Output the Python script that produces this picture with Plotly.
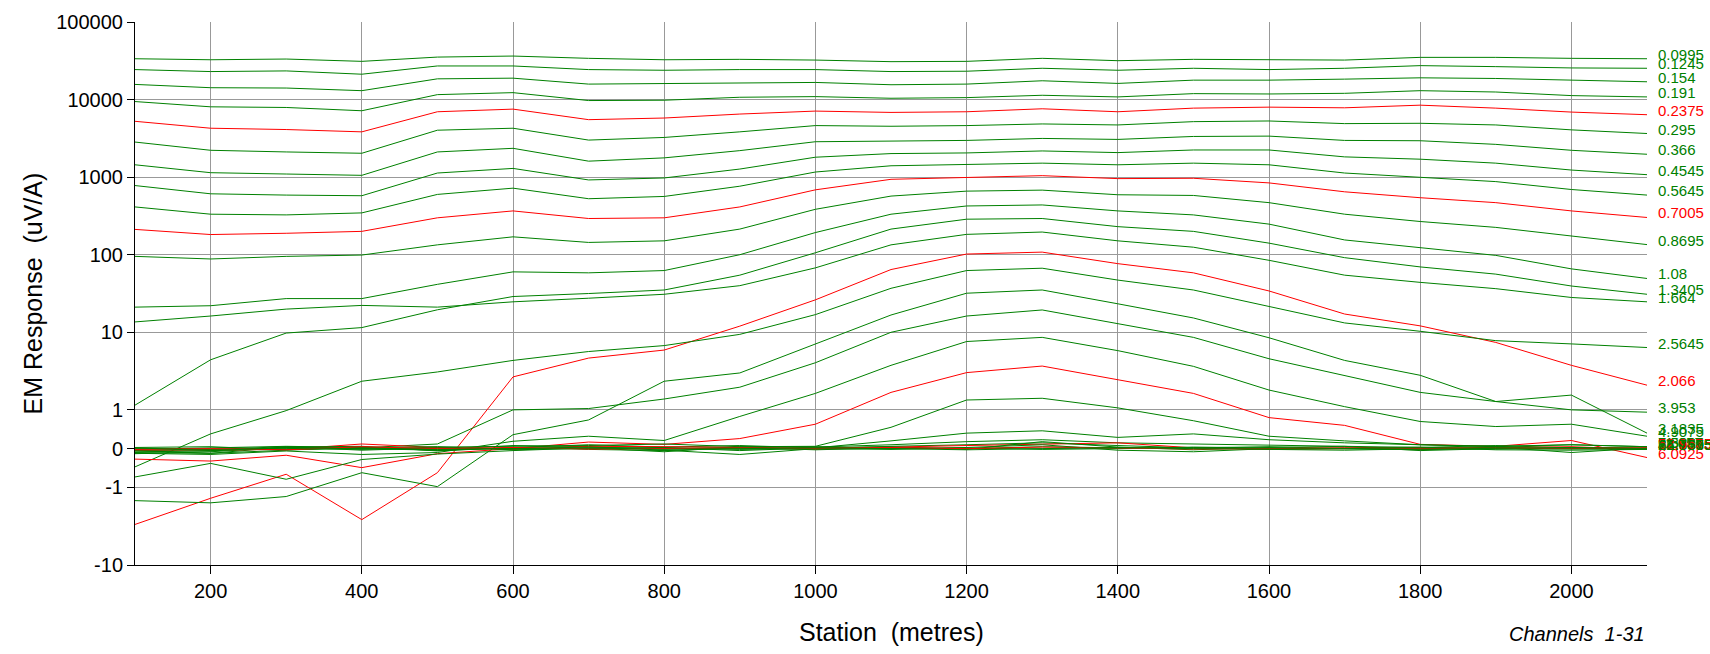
import numpy as np
import plotly.graph_objects as go

# stations along the line (metres)
stations = [100, 200, 300, 400, 500, 600, 700, 800, 900, 1000, 1100,
            1200, 1300, 1400, 1500, 1600, 1700, 1800, 1900, 2000, 2100]

# channel centre times (ms), used as the line labels
channel_times = ["0.0995", "0.1245", "0.154", "0.191", "0.2375", "0.295", "0.366",
                 "0.4545", "0.5645", "0.7005", "0.8695", "1.08", "1.3405", "1.664",
                 "2.066", "2.5645", "3.1835", "3.953", "4.9075", "6.0925", "7.5635",
                 "9.3895", "11.657", "14.4705", "17.9645", "22.3015", "27.6855",
                 "34.3695", "42.6675", "52.9675", "65.7575"]

# EM response (uV/A), one list per channel
ch1 = [33600, 32600, 33300, 31100, 35300, 36400, 34000, 32600, 33000, 32300, 30800,
       31100, 34000, 31700, 33000, 33000, 32300, 35000, 35000, 34000, 33600]
ch2 = [24350, 22960, 23410, 21230, 27120, 27120, 24350, 23870, 24350, 24350, 22960,
       23200, 25320, 23870, 25320, 24350, 25320, 27380, 26590, 25570, 25320]
ch3 = [15680, 14220, 14080, 13020, 18510, 18880, 15830, 15990, 16470, 16630, 15530,
       15830, 17470, 16150, 17800, 17800, 18340, 19070, 18700, 17800, 16960]
ch4 = [9430, 8065, 7909, 7173, 11580, 12280, 9710, 9806, 10710, 10920, 10400,
       10600, 11360, 10820, 11930, 11810, 12040, 13020, 12520, 11250, 10820]
ch5 = [5245, 4272, 4108, 3836, 6966, 7533, 5508, 5783, 6506, 7104, 6830,
       6966, 7606, 6966, 7756, 7986, 7833, 8469, 7756, 6898, 6380]
ch6 = [2833, 2219, 2113, 2032, 4028, 4272, 3004, 3249, 3836, 4620, 4530,
       4620, 4851, 4710, 5193, 5297, 4898, 4946, 4710, 4068, 3652]
ch7 = [1443, 1141, 1097, 1055, 2113, 2353, 1607, 1772, 2197, 2861, 2917,
       2975, 3155, 3064, 3345, 3379, 2975, 2946, 2646, 2219, 1973]
ch8 = [779, 610, 587, 576, 1130, 1296, 920, 976, 1271, 1807, 2012,
       2052, 2176, 2072, 2240, 2240, 1825, 1704, 1515, 1234, 1076]
ch9 = [413, 333, 326, 346, 599, 721, 527, 564, 764, 1164, 1401,
       1443, 1515, 1443, 1515, 1443, 1130, 995, 876, 693, 587]
ch10 = [212, 182, 189, 200, 299, 367, 293, 299, 413, 686, 938,
        995, 1045, 957, 967, 843, 647, 543, 469, 367, 302]
ch11 = [95.2, 88.1, 95.2, 99, 134, 170, 144, 151, 214, 385, 570,
        660, 680, 593, 581, 469, 333, 268, 225, 173, 135]
ch12 = [21.1, 22.0, 27.2, 27.2, 41.5, 60.1, 58.4, 62.5, 100, 193, 333,
        425, 438, 367, 326, 248, 155, 124, 98, 65.7, 49.4]
ch13 = [1.15, 4.42, 9.77, 11.5, 19.5, 28.9, 31.6, 35.1, 54.5, 106, 214,
        287, 293, 230, 200, 141, 91.6, 69.6, 56.2, 39.5, 30.9]
ch14 = [13.6, 16.2, 19.9, 22.2, 21.1, 24.7, 27.5, 30.9, 39.9, 67.7, 134,
        183, 196, 151, 125, 84.7, 54.5, 44, 36.5, 28.1, 24.7]
ch15 = [-3.0, -1.38, -0.66, -2.6, -0.62, 2.66, 4.65, 5.9, 12, 26.2, 64.4,
        102, 108, 76.7, 58.4, 34.1, 17.2, 12.1, 7.4, 3.75, 2.08]
ch16 = [-0.47, 0.38, 0.98, 2.34, 3.08, 4.34, 5.65, 6.74, 9.4, 16.9, 36.9,
        62.5, 67, 47.1, 35.1, 21.5, 13.2, 10.3, 7.8, 7.08, 6.36]
ch17 = [-1.48, -1.58, -1.31, -0.62, -0.98, 0.36, 0.74, 2.34, 2.99, 7.08, 16.7,
        31.9, 35.1, 23.3, 15.3, 8.5, 4.34, 2.79, 1.28, 1.55, 0.4]
ch18 = [-0.05, -0.12, 0.04, 0.02, 0.12, 1.0, 1.04, 1.38, 1.96, 4.05, 10,
        16.2, 19.4, 12.8, 8.6, 4.56, 2.75, 1.68, 1.28, 1.0, 0.94]
ch19 = [-0.12, -0.15, -0.06, -0.15, -0.10, 0.19, 0.32, 0.21, 0.83, 1.63, 3.75,
        7.6, 8.6, 5.8, 3.64, 1.8, 1.1, 0.7, 0.57, 0.63, 0.32]
ch20 = [-0.27, -0.32, -0.17, -0.49, -0.13, 0.0, 0.17, 0.11, 0.26, 0.63, 1.68,
        3.02, 3.67, 2.46, 1.63, 0.80, 0.60, 0.11, 0.06, 0.21, -0.23]
ch21 = [-0.73, -0.38, -0.79, -0.28, -0.14, -0.05, 0.02, -0.08, 0.05, 0.06, 0.55,
        1.34, 1.41, 1.06, 0.72, 0.32, 0.2, 0.1, 0.05, 0.1, 0.05]
ch22 = [-0.10, -0.12, -0.04, 0.05, -0.05, 0.02, 0.10, 0.04, 0.08, 0.02, 0.20,
        0.40, 0.46, 0.29, 0.38, 0.23, 0.15, 0.10, 0.06, 0.10, 0.05]
ch23 = [-0.13, -0.08, 0.03, -0.02, 0.04, 0.06, 0.08, 0.12, 0.05, 0.04, 0.10,
        0.18, 0.23, 0.15, 0.12, 0.10, 0.06, 0.03, 0.08, 0.02, 0.04]
ch24 = [-0.02, 0.02, 0.06, 0.03, -0.03, 0.08, 0.05, -0.04, -0.15, 0.0, 0.06,
        0.10, 0.15, 0.08, 0.02, 0.05, 0.0, -0.03, 0.04, -0.10, 0.02]
ch25 = [-0.05, -0.04, -0.02, 0.12, 0.03, -0.02, 0.06, 0.05, 0.03, -0.02, 0.04,
        0.08, 0.12, 0.15, 0.02, -0.02, 0.0, 0.03, 0.02, 0.05, -0.02]
ch26 = [0.03, 0.05, -0.03, 0.0, -0.04, 0.02, 0.0, 0.03, -0.05, 0.02, 0.05,
        -0.02, 0.18, 0.04, -0.03, 0.03, 0.06, -0.05, 0.0, 0.03, 0.01]
ch27 = [-0.08, -0.06, 0.04, 0.06, -0.06, 0.03, -0.02, -0.05, 0.02, 0.05, 0.0,
        0.03, 0.10, -0.04, -0.08, 0.0, 0.02, 0.04, -0.03, -0.04, -0.02]
ch28 = [0.0, -0.02, 0.05, -0.04, 0.02, 0.0, 0.04, 0.0, 0.03, -0.03, 0.02,
        0.0, 0.05, 0.02, 0.03, -0.02, -0.04, 0.0, 0.03, 0.0, 0.0]
ch29 = [-0.04, -0.03, 0.0, 0.03, 0.05, -0.03, 0.01, 0.02, -0.02, 0.0, -0.02,
        0.02, -0.02, 0.0, 0.04, 0.02, 0.0, -0.02, -0.01, 0.02, -0.01]
ch30 = [-0.02, 0.0, -0.03, 0.05, 0.0, 0.03, -0.01, 0.0, 0.02, 0.01, 0.03,
        0.0, 0.04, 0.02, -0.01, 0.0, 0.02, 0.0, 0.01, 0.0, 0.02]
ch31 = [0.02, -0.05, 0.02, 0.0, -0.02, 0.0, 0.02, -0.02, 0.0, 0.02, 0.0,
        -0.03, 0.0, 0.03, 0.0, -0.01, 0.0, 0.02, 0.0, -0.01, 0.0]

channels = [ch1, ch2, ch3, ch4, ch5, ch6, ch7, ch8, ch9, ch10, ch11, ch12, ch13,
            ch14, ch15, ch16, ch17, ch18, ch19, ch20, ch21, ch22, ch23, ch24,
            ch25, ch26, ch27, ch28, ch29, ch30, ch31]

y_tick_values = [100000, 10000, 1000, 100, 10, 1, 0, -1, -10]
y_tick_labels = ["100000", "10000", "1000", "100", "10", "1", "0", "-1", "-10"]
x_tick_values = [200, 400, 600, 800, 1000, 1200, 1400, 1600, 1800, 2000]

FONT = "Arial, Liberation Sans, sans-serif"
GREEN = "#008000"
RED = "#ff0000"


def loglin(v):
    # log above |1|, linear between -1 and 1 (half a decade each side)
    v = np.asarray(v, dtype=float)
    a = np.abs(v)
    return np.where(a >= 1, np.sign(v) * (np.log10(np.maximum(a, 1)) + 0.5), v / 2)


fig = go.Figure()

for i, vals in enumerate(channels):
    color = RED if (i + 1) % 5 == 0 else GREEN
    fig.add_trace(go.Scatter(
        x=stations, y=loglin(vals), mode="lines",
        line=dict(color=color, width=1),
        name=channel_times[i], customdata=vals,
        hovertemplate="%{x}: %{customdata}<extra>" + channel_times[i] + "</extra>"))
    fig.add_annotation(
        x=stations[-1], y=float(loglin(vals[-1])), xref="x", yref="y",
        text=channel_times[i], showarrow=False, xanchor="left", yanchor="middle",
        xshift=9, yshift=4.5, font=dict(family=FONT, size=15, color=color))

# axis titles and the channel note
fig.add_annotation(x=-0.0675, y=0.5, xref="paper", yref="paper",
                   text="EM Response\u00a0 (uV/A)", textangle=-90, showarrow=False,
                   xanchor="center", yanchor="middle",
                   font=dict(family=FONT, size=25, color="black"))
fig.add_annotation(x=0.5, y=-0.124, xref="paper", yref="paper",
                   text="Station\u00a0 (metres)", showarrow=False,
                   xanchor="center", yanchor="middle",
                   font=dict(family=FONT, size=25, color="black"))
fig.add_annotation(x=1.0, y=-0.1276, xref="paper", yref="paper",
                   text="<i>Channels\u00a0 1-31</i>", showarrow=False,
                   xanchor="right", yanchor="middle",
                   font=dict(family=FONT, size=20, color="black"))

fig.update_xaxes(range=[100, 2100], tickvals=x_tick_values,
                 showgrid=True, gridcolor="#999999", gridwidth=1,
                 showline=True, linecolor="black", linewidth=1,
                 ticks="outside", ticklen=8, tickcolor="black", zeroline=False,
                 tickfont=dict(family=FONT, size=20, color="black"))
fig.update_yaxes(range=[-1.5, 5.5], tickvals=loglin(y_tick_values).tolist(),
                 ticktext=y_tick_labels,
                 showgrid=True, gridcolor="#999999", gridwidth=1,
                 showline=True, linecolor="black", linewidth=1,
                 ticks="outside", ticklen=7, tickcolor="black", zeroline=False,
                 tickfont=dict(family=FONT, size=20, color="black"))

fig.update_layout(width=1710, height=654, showlegend=False,
                  margin=dict(l=135, r=63, t=11, b=89),
                  plot_bgcolor="white", paper_bgcolor="white",
                  font=dict(family=FONT))

# the page body has a default 8px margin; drop it so the figure fills the window
fig.write_html("out.html", config={"displayModeBar": False},
               post_script="document.body.style.margin='0';"
                           "document.body.style.overflow='hidden';")
